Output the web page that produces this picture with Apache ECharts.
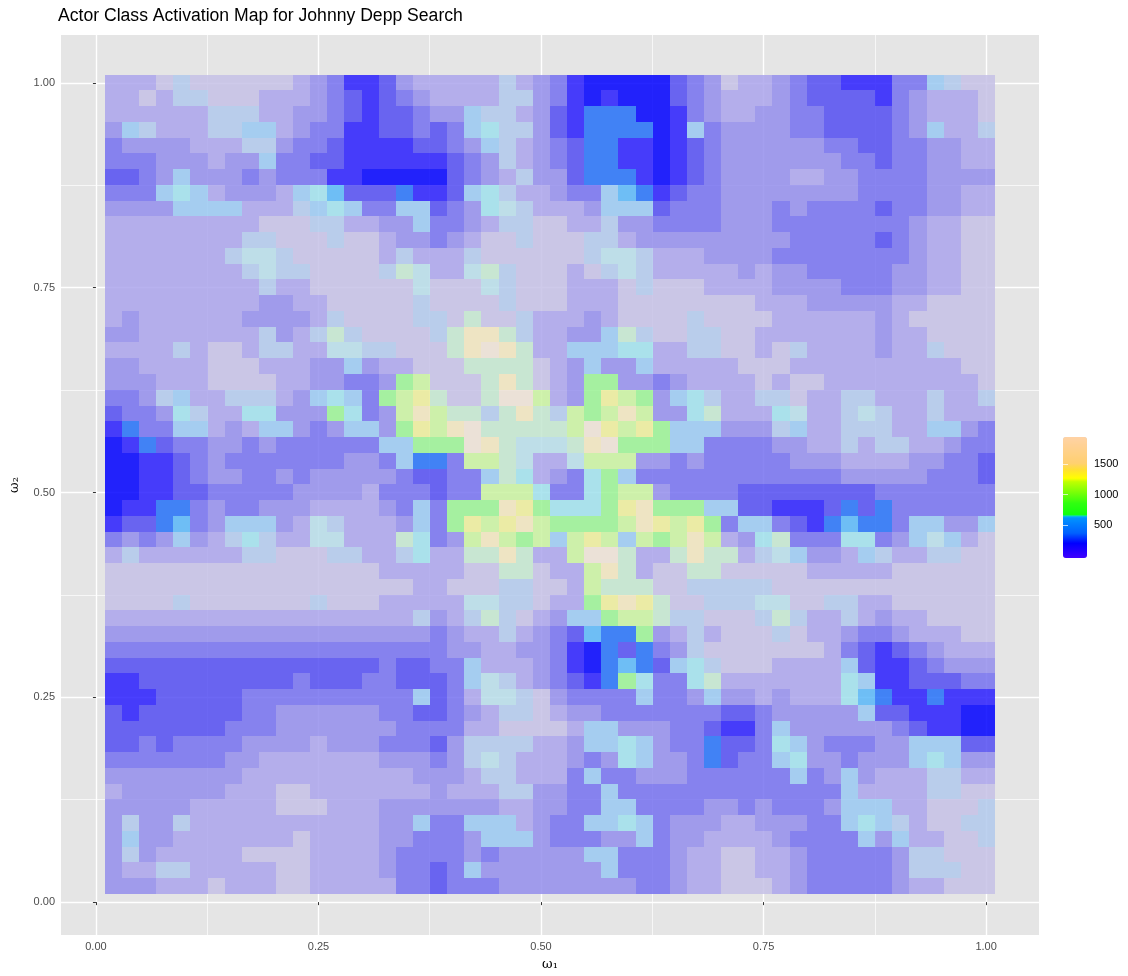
<!DOCTYPE html>
<html><head><meta charset="utf-8">
<style>html,body{margin:0;padding:0;background:#fff}#c{width:1128px;height:976px}</style>
<script src="https://cdn.jsdelivr.net/npm/echarts@6/dist/echarts.min.js"></script>
</head><body><div id="c"></div>
<script>
// Activation, in steps of activationStep, one list per row, top row first.
const row00=[5,5,5,6,7,6,6,6,6,6,6,5,4,3,1,1,2,4,5,5,5,5,5,7,5,4,3,1,0,0,0,0,0,2,3,4,6,5,5,4,3,2,2,1,1,1,3,3,8,7,6,6];
const row01=[5,5,6,5,7,7,6,6,6,5,5,5,4,3,2,1,2,3,4,5,5,5,5,7,7,4,3,1,0,1,0,0,0,2,3,4,5,5,5,4,3,2,2,2,2,1,3,4,5,5,5,6];
const row02=[5,5,5,5,5,5,7,7,7,5,5,4,4,3,2,1,2,2,3,4,4,8,7,7,5,4,2,1,9,9,9,0,0,1,3,4,5,5,4,4,3,3,2,2,2,2,3,4,5,5,5,6];
const row03=[4,8,7,5,5,5,7,7,8,8,5,4,3,3,1,1,2,2,3,2,3,8,11,7,7,4,2,1,9,9,9,9,0,1,8,3,4,4,4,4,3,3,2,2,2,2,3,4,8,5,5,7];
const row04=[3,4,4,4,4,5,5,5,7,7,4,3,3,2,1,1,1,1,2,2,3,4,8,7,5,4,3,2,9,9,1,1,0,1,2,3,4,4,4,4,4,4,3,3,2,2,3,3,4,4,5,5];
const row05=[3,3,3,4,4,4,5,4,4,8,3,3,2,2,1,1,1,1,1,1,2,3,4,7,5,4,3,2,9,9,1,1,0,1,2,3,4,4,4,4,4,4,4,3,3,2,3,3,4,4,5,5];
const row06=[2,2,3,4,8,4,4,4,3,4,3,3,3,1,1,0,0,0,0,0,2,3,4,5,7,4,4,2,9,9,9,1,0,1,2,3,4,4,4,4,5,5,4,4,3,3,3,3,4,4,4,4];
const row07=[3,3,3,8,11,8,5,4,4,4,5,8,11,10,2,2,2,9,1,1,2,8,11,7,5,5,4,3,3,8,10,9,1,2,3,3,4,4,4,4,4,4,4,4,3,3,3,3,4,4,5,5];
const row08=[4,4,4,4,8,8,8,8,5,5,5,7,8,11,8,3,3,8,8,2,3,4,11,12,7,5,5,5,4,8,8,8,2,3,3,3,4,4,4,3,4,3,3,3,3,2,3,3,4,4,5,5];
const row09=[5,5,5,5,5,5,5,5,5,6,6,6,7,7,5,5,4,4,8,3,3,4,5,7,7,6,6,5,5,7,4,4,3,3,3,3,4,4,4,3,3,3,3,3,3,3,3,4,5,5,6,6];
const row10=[5,5,5,5,5,5,5,5,7,7,6,6,6,7,6,6,5,4,4,3,4,5,6,6,7,6,6,6,7,7,5,4,4,4,4,4,4,4,4,4,3,3,3,3,3,2,3,4,5,5,6,6];
const row11=[5,5,5,5,5,5,5,7,12,12,7,6,6,6,6,6,5,7,5,5,5,7,6,6,6,6,6,6,7,12,12,7,5,5,5,4,4,4,4,3,3,3,3,3,3,3,3,4,5,5,6,6];
const row12=[5,5,5,5,5,5,5,5,7,12,7,7,6,6,6,6,7,13,12,5,5,12,13,7,6,6,6,5,6,7,12,7,5,5,5,5,5,4,5,4,4,3,3,3,3,3,4,4,5,5,6,6];
const row13=[5,5,5,5,5,5,5,5,5,7,5,5,6,6,6,6,6,6,12,6,6,6,12,7,6,6,6,5,5,5,6,7,6,6,6,5,5,5,5,4,4,4,4,3,3,3,4,4,5,5,6,6];
const row14=[5,5,5,5,5,5,5,5,5,4,4,5,5,6,6,6,6,6,7,6,6,6,6,7,6,6,6,5,5,5,6,6,6,6,6,6,6,6,5,5,5,4,4,4,4,4,5,5,6,6,6,6];
const row15=[5,4,5,5,5,5,5,5,4,4,4,4,5,7,6,6,6,6,7,7,6,13,6,6,7,5,5,5,4,5,6,6,6,6,7,6,6,6,6,5,5,5,5,5,5,4,5,6,6,6,6,6];
const row16=[4,4,5,5,5,5,5,5,5,7,4,5,7,13,7,6,6,6,6,7,13,17,17,13,7,5,5,4,4,8,13,7,6,6,7,7,6,6,5,5,5,5,5,5,5,4,5,5,6,6,6,6];
const row17=[5,5,5,5,7,5,6,6,5,7,7,5,5,12,12,7,7,6,6,6,13,17,18,17,13,5,5,8,8,8,11,11,5,5,7,7,6,6,5,6,7,5,5,5,5,4,5,5,7,6,6,6];
const row18=[4,4,5,5,5,5,6,6,6,5,5,5,4,4,8,4,5,5,6,6,6,13,13,13,13,6,5,4,8,4,4,8,5,5,5,5,5,6,6,6,5,5,5,5,5,5,5,5,5,5,6,6];
const row19=[4,4,4,5,5,5,6,6,6,6,5,5,4,4,3,3,4,14,15,6,6,6,13,17,13,6,5,4,14,14,4,4,3,4,5,5,5,5,6,5,6,6,5,5,5,5,5,5,5,5,5,6];
const row20=[3,3,4,7,8,5,5,7,7,7,5,4,8,11,8,3,14,15,16,13,6,6,13,18,18,15,5,4,14,16,15,14,4,8,11,7,5,5,7,7,6,5,5,7,7,5,5,5,7,5,5,7];
const row21=[2,3,3,4,11,7,5,5,11,11,4,4,4,14,11,3,4,15,17,15,13,13,7,13,17,13,7,15,14,15,17,15,4,4,11,13,5,5,5,11,12,5,5,7,12,7,5,5,7,5,5,5];
const row22=[1,9,3,3,8,8,5,4,5,8,8,4,3,4,8,8,4,14,16,15,17,18,13,13,13,13,13,15,18,16,15,16,14,8,8,8,4,4,4,7,8,5,5,7,7,7,5,5,8,8,4,3];
const row23=[0,1,9,2,3,3,4,4,3,4,3,3,3,3,3,3,8,8,14,14,14,18,17,13,12,12,12,13,17,18,14,14,14,8,8,3,3,3,3,4,4,5,5,7,5,7,7,5,5,4,3,3];
const row24=[0,0,1,1,2,3,4,3,3,3,3,3,3,3,4,4,3,8,9,9,3,15,15,13,12,5,5,12,15,15,15,4,4,3,4,3,3,3,3,3,4,4,4,5,5,5,5,4,4,3,3,2];
const row25=[0,0,1,1,2,3,4,4,3,3,4,3,4,4,4,4,4,3,2,2,3,3,8,13,11,5,4,3,11,14,8,3,3,3,3,3,3,3,3,3,3,3,3,4,4,4,4,4,3,3,3,2];
const row26=[0,0,1,1,2,2,3,3,3,3,3,4,4,4,4,5,3,3,3,2,3,3,15,15,15,11,3,3,11,14,15,15,4,3,3,3,3,2,2,2,2,2,2,2,2,3,3,3,3,3,3,3];
const row27=[0,1,1,9,9,3,4,3,3,4,4,4,5,5,5,5,4,3,8,3,14,14,14,17,16,14,11,11,11,14,16,17,14,14,14,8,8,2,2,1,1,1,2,9,2,9,3,3,3,3,3,3];
const row28=[1,2,2,9,10,3,4,8,8,8,4,5,12,7,5,5,5,4,8,3,14,16,15,16,17,15,14,14,14,14,15,17,16,15,16,14,3,8,8,3,2,1,9,10,9,9,3,8,8,4,4,8];
const row29=[3,4,3,4,8,4,5,7,11,7,5,5,12,12,5,5,5,13,11,3,4,15,17,15,14,15,8,15,16,15,8,15,14,15,17,15,5,4,11,13,3,3,3,11,11,3,4,8,12,8,5,6];
const row30=[5,7,5,5,5,5,5,5,7,7,6,6,6,7,7,5,5,7,11,5,5,13,13,17,13,5,5,15,18,18,13,5,5,13,17,13,13,5,7,12,8,4,4,5,8,7,5,5,7,7,6,6];
const row31=[6,6,6,6,6,6,6,6,6,6,6,6,6,6,6,6,5,5,5,5,5,6,6,13,13,6,5,5,15,17,13,5,6,6,13,13,6,6,6,6,6,5,5,5,5,5,6,6,6,6,6,6];
const row32=[6,6,6,6,6,6,6,6,6,6,6,6,6,6,6,6,6,6,5,5,6,6,6,7,7,6,6,5,15,13,13,13,6,6,7,7,7,7,7,6,6,6,6,6,6,6,6,6,6,6,6,6];
const row33=[6,6,6,6,7,6,6,6,6,6,6,6,7,6,6,6,5,5,5,5,5,12,12,7,7,6,5,5,14,16,17,16,13,6,6,7,7,7,12,12,6,6,7,7,5,5,6,6,6,6,6,6];
const row34=[5,5,5,5,5,5,5,5,5,5,5,5,5,5,5,5,5,5,7,4,5,7,13,7,6,5,4,8,8,14,15,15,13,7,7,6,6,6,7,13,7,5,5,7,5,4,5,5,6,6,6,6];
const row35=[4,4,4,4,4,4,4,4,4,4,4,4,4,4,4,4,4,4,4,3,4,5,5,7,5,4,3,2,10,9,9,14,4,5,7,5,6,6,6,7,6,5,5,4,3,3,4,5,5,5,6,6];
const row36=[3,3,3,3,3,3,3,3,3,3,3,3,3,3,3,3,3,3,3,3,4,4,5,5,4,4,3,1,0,9,2,9,3,4,7,6,6,6,6,6,6,6,5,3,2,1,2,3,4,5,5,5];
const row37=[2,2,2,2,2,2,2,2,2,2,2,2,2,2,2,2,3,2,2,3,3,8,5,5,5,4,3,1,0,9,10,9,2,8,11,7,6,6,6,5,5,5,5,8,2,1,1,2,3,4,4,4];
const row38=[1,1,2,2,2,2,2,2,2,2,2,3,2,2,2,3,3,2,2,2,3,8,12,7,5,4,3,2,1,9,14,11,3,3,11,13,5,5,5,5,5,5,5,11,8,1,1,2,2,2,3,3];
const row39=[1,1,1,2,2,2,2,2,3,3,3,3,3,3,3,3,3,3,8,2,3,5,12,12,7,6,4,3,3,3,3,8,3,3,4,8,4,4,5,4,5,5,5,11,10,9,1,1,9,1,1,1];
const row40=[2,1,2,2,2,2,2,2,3,3,4,4,4,4,4,4,3,3,2,2,3,4,5,7,7,6,5,4,4,3,3,3,3,3,3,3,2,2,3,4,4,4,4,4,8,2,2,1,1,1,0,0];
const row41=[2,2,2,2,2,2,2,3,3,3,4,4,4,4,4,4,4,3,3,3,3,5,5,6,6,6,6,5,8,8,4,4,4,3,3,2,1,1,3,8,4,4,4,4,4,4,3,2,1,1,0,0];
const row42=[2,2,3,2,3,3,3,3,4,4,4,4,5,4,4,4,3,3,3,2,4,7,7,7,7,5,5,4,8,8,11,8,4,3,3,9,2,2,3,11,8,4,3,3,3,4,4,8,8,8,2,2];
const row43=[3,3,3,3,3,3,3,4,4,5,5,5,5,5,5,5,4,4,4,3,4,7,12,7,5,5,5,4,3,4,11,8,4,4,3,9,2,3,3,8,11,4,4,3,4,4,4,8,11,8,4,4];
const row44=[4,4,4,4,4,4,4,4,5,5,5,5,5,5,5,5,5,5,4,4,4,5,7,7,5,5,5,3,8,3,3,4,4,4,3,3,3,3,3,3,8,3,4,8,4,5,5,5,7,7,5,5];
const row45=[5,4,4,4,4,4,4,5,5,5,6,6,5,5,5,5,5,5,5,4,5,5,5,7,7,4,4,3,3,8,3,3,3,3,3,3,3,3,3,3,3,3,3,8,5,5,5,5,7,7,6,6];
const row46=[4,4,4,4,4,5,5,5,5,5,6,6,6,5,5,5,4,4,4,4,4,4,4,5,5,4,4,3,3,8,8,3,3,3,3,4,4,3,4,3,3,3,4,8,8,8,5,5,6,6,6,7];
const row47=[4,7,4,4,7,5,5,5,5,5,5,5,5,5,5,5,4,4,8,3,3,8,8,8,5,4,3,3,8,8,11,8,3,4,4,4,5,5,4,4,4,3,3,8,11,8,7,5,6,6,7,7];
const row48=[4,8,4,4,5,5,5,5,5,5,5,6,5,5,5,5,4,4,3,3,3,4,8,8,8,4,3,3,3,4,4,8,3,4,4,5,5,5,5,4,3,3,3,3,8,4,8,5,5,6,6,7];
const row49=[4,7,4,5,5,5,5,5,6,6,6,6,5,5,5,5,4,3,3,3,3,4,3,4,4,4,4,4,8,8,3,3,3,4,5,5,6,6,5,5,4,3,3,3,3,3,4,7,7,6,6,6];
const row50=[4,5,5,7,7,5,5,5,5,5,6,6,5,5,5,5,4,3,3,2,3,8,4,4,4,4,4,4,4,8,3,3,3,4,5,5,6,6,5,5,4,3,3,3,3,3,4,7,7,7,6,6];
const row51=[4,4,4,5,5,5,6,5,5,5,6,6,5,5,5,5,5,3,3,2,3,3,3,4,4,4,4,4,4,4,4,3,3,4,5,5,6,6,6,5,4,3,3,3,3,3,4,5,5,6,6,6];
const rows=[row00,row01,row02,row03,row04,row05,row06,row07,row08,row09,row10,row11,row12,row13,row14,row15,row16,row17,row18,row19,row20,row21,row22,row23,row24,row25,row26,row27,row28,row29,row30,row31,row32,row33,row34,row35,row36,row37,row38,row39,row40,row41,row42,row43,row44,row45,row46,row47,row48,row49,row50,row51];
rows.forEach((r,i)=>{ if(r.length!==52) throw new Error('row '+i+' has '+r.length); });

const activationStep = 105;
const tickValues = [0, 0.25, 0.5, 0.75, 1];
const minorValues = [0.125, 0.375, 0.625, 0.875];
const legendTicks = [500, 1000, 1500];

// colours of the tiles as seen on the page, one per activation step
const tileSeen = [[30,20,255],[70,60,250],[105,100,240],[135,130,238],[160,155,235],[180,175,235],[203,198,230],[185,205,235],[165,205,240],[65,130,245],[110,190,245],[170,225,235],[190,222,232],[200,230,210],[165,240,160],[205,240,170],[235,235,165],[238,228,195],[235,225,215]];
const tileAlpha = 0.85, panel = 229;
const tileColors = tileSeen.map(c => 'rgb(' + c.map(v => Math.max(0, Math.min(255, Math.round((v - (1 - tileAlpha) * panel) / tileAlpha)))).join(',') + ')');

// colour bar stops [activation, rgb]
const barStops = [[-46,[64,0,255]],[198,[0,0,255]],[363,[0,96,255]],[630,[0,150,255]],[640,[16,208,255]],[668,[16,255,16]],[857,[48,255,16]],[1215,[192,255,0]],[1270,[255,255,0]],[1407,[255,225,48]],[1516,[255,208,112]],[1952,[255,210,165]]];
const barMin = -46, barMax = 1952;
const barColors = [];
for (let i = 0; i <= 200; i++) {
  const v = barMin + (barMax - barMin) * i / 200;
  let k = 0; while (k < barStops.length - 2 && v > barStops[k + 1][0]) k++;
  const a = barStops[k], b = barStops[k + 1], t = Math.max(0, Math.min(1, (v - a[0]) / (b[0] - a[0])));
  barColors.push('rgb(' + a[1].map((c, j) => Math.round(c + (b[1][j] - c) * t)).join(',') + ')');
}

const cell = 1 / rows.length, origin = 0.01;
const tiles = [];
rows.forEach((row, r) => row.forEach((lv, c) => {
  tiles.push([origin + (c + 0.5) * cell, origin + 1 - (r + 0.5) * cell, lv * activationStep]);
}));

const xMin = -35 / 892, xMax = 945 / 892, yMin = -33 / 822, yMax = 870 / 822;
const font = 'Liberation Sans';
const fmt = v => v.toFixed(2);
const major = { show: true, lineStyle: { color: '#fff', width: 1.4 } };
const minor = { show: true, lineStyle: { color: '#fff', width: 0.7 } };

const chart = echarts.init(document.getElementById('c'), null, { renderer: 'canvas' });
chart.setOption({
  animation: false,
  backgroundColor: '#fff',
  title: { text: 'Actor Class Activation Map for Johnny Depp Search', left: 58, top: 7, padding: 0,
    textStyle: { fontFamily: font, fontSize: 17.6, fontWeight: 'normal', color: '#000' } },
  grid: [
    { left: 59, top: 35, width: 980, height: 903, show: true, backgroundColor: '#E5E5E5', borderWidth: 0 },
    { left: 1063, top: 437, width: 24, height: 121, show: false }
  ],
  xAxis: [
    { type: 'value', gridIndex: 0, min: xMin, max: xMax, position: 'bottom',
      name: 'ω₁', nameLocation: 'middle', nameGap: 23,
      nameTextStyle: { fontFamily: 'DejaVu Serif', fontSize: 13, color: '#000' },
      axisLine: { show: false },
      axisTick: { show: true, length: 3, lineStyle: { color: '#333', width: 1 }, customValues: tickValues },
      axisLabel: { customValues: tickValues, formatter: fmt, fontFamily: font, fontSize: 11, color: '#4D4D4D', margin: 6 },
      splitLine: major },
    { type: 'value', gridIndex: 0, min: xMin, max: xMax, position: 'bottom', axisLine: { show: false },
      axisTick: { show: false, customValues: minorValues }, axisLabel: { show: false, customValues: minorValues }, splitLine: minor },
    { type: 'value', gridIndex: 1, min: 0, max: 1, show: false }
  ],
  yAxis: [
    { type: 'value', gridIndex: 0, min: yMin, max: yMax, position: 'left',
      name: 'ω₂', nameLocation: 'middle', nameGap: 40, nameRotate: 90,
      nameTextStyle: { fontFamily: 'DejaVu Serif', fontSize: 13, color: '#000' },
      axisLine: { show: false },
      axisTick: { show: true, length: 3, lineStyle: { color: '#333', width: 1 }, customValues: tickValues },
      axisLabel: { customValues: tickValues, formatter: fmt, fontFamily: font, fontSize: 11, color: '#4D4D4D', margin: 6 },
      splitLine: major },
    { type: 'value', gridIndex: 0, min: yMin, max: yMax, position: 'left', axisLine: { show: false },
      axisTick: { show: false, customValues: minorValues }, axisLabel: { show: false, customValues: minorValues }, splitLine: minor },
    { type: 'value', gridIndex: 1, min: barMin, max: barMax, position: 'right', z: 20,
      axisLine: { show: false }, splitLine: { show: false },
      axisTick: { show: true, inside: true, length: 5, lineStyle: { color: '#fff', width: 0.7 }, customValues: legendTicks },
      axisLabel: { customValues: legendTicks, formatter: v => String(v), fontFamily: font, fontSize: 11, color: '#000', margin: 7 } },
    { type: 'value', gridIndex: 1, min: barMin, max: barMax, position: 'left', z: 20,
      axisLine: { show: false }, splitLine: { show: false },
      axisTick: { show: true, inside: true, length: 5, lineStyle: { color: '#fff', width: 0.7 }, customValues: legendTicks },
      axisLabel: { show: false, customValues: legendTicks } }
  ],
  visualMap: [
    { type: 'continuous', show: false, seriesIndex: 0, dimension: 2, min: 0, max: (tileColors.length - 1) * activationStep,
      inRange: { color: tileColors } },
    { type: 'continuous', show: true, seriesIndex: 1, dimension: 1, min: barMin, max: barMax, left: 1063, top: 437, padding: 0,
      itemWidth: 24, itemHeight: 121, calculable: false, hoverLink: false, text: null, showLabel: false, z: 3,
      inRange: { color: barColors } }
  ],
  series: [
    { type: 'custom', xAxisIndex: 0, yAxisIndex: 0, coordinateSystem: 'cartesian2d', silent: true, data: tiles,
      dimensions: ['w1', 'w2', 'activation'], encode: { x: 0, y: 1 }, z: 3, clip: false,
      renderItem: (params, api) => {
        const x = api.value(0), y = api.value(1), h = cell / 2;
        const a = api.coord([x - h, y + h]), b = api.coord([x + h, y - h]);
        const x0 = Math.round(a[0]), y0 = Math.round(a[1]), x1 = Math.round(b[0]), y1 = Math.round(b[1]);
        return { type: 'rect', shape: { x: x0, y: y0, width: x1 - x0, height: y1 - y0 },
          style: { fill: api.visual('color'), opacity: tileAlpha } };
      } },
    { type: 'scatter', xAxisIndex: 2, yAxisIndex: 2, data: [], silent: true }
  ]
});
</script></body></html>
